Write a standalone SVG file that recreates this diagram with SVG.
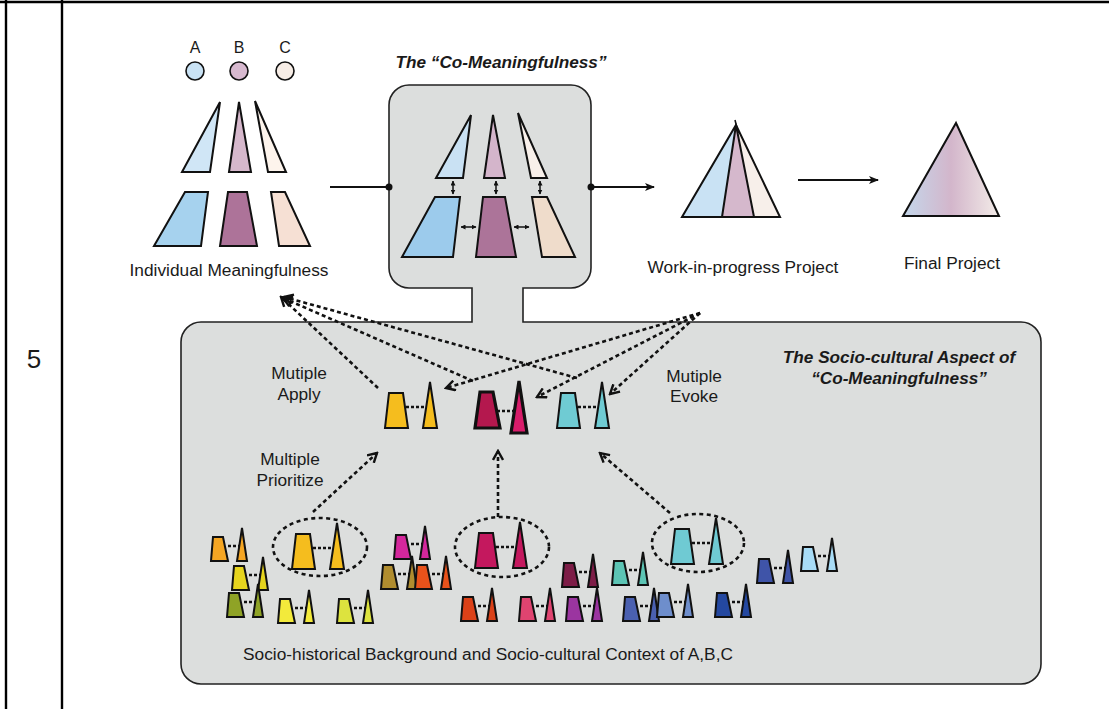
<svg xmlns="http://www.w3.org/2000/svg" width="1109" height="709" viewBox="0 0 1109 709">
<style>
text{font-family:"Liberation Sans",Arial,sans-serif;fill:#1a1a1a}
.lbl{font-size:17.3px}
.ttl{font-size:17.2px;font-weight:bold;font-style:italic}
.abc{font-size:16px}
.sh{stroke:#111;stroke-width:2;stroke-linejoin:miter}
.thick{stroke:#111;stroke-width:3.2;stroke-linejoin:miter}
.dl{fill:none;stroke:#111;stroke-width:2.6;stroke-dasharray:4 3}
.ln{fill:none;stroke:#111;stroke-width:1.8}
.dbl{fill:none;stroke:#111;stroke-width:1.5;marker-start:url(#sm);marker-end:url(#sm)}
.pd{fill:none;stroke:#111;stroke-width:2.5;stroke-dasharray:3 2}
.ell{fill:none;stroke:#111;stroke-width:2.6;stroke-dasharray:4 3.5}
</style>
<defs>
<marker id="ah" viewBox="0 0 10 10" refX="9" refY="5" markerWidth="10" markerHeight="10" markerUnits="userSpaceOnUse" orient="auto">
<path d="M0,1 L10,5 L0,9 L2.5,5 Z" fill="#111"/>
</marker>
<marker id="sm" viewBox="0 0 10 10" refX="9" refY="5" markerWidth="5" markerHeight="5" markerUnits="userSpaceOnUse" orient="auto-start-reverse">
<path d="M0,0 L10,5 L0,10 Z" fill="#111"/>
</marker>
<marker id="op" viewBox="0 0 12 12" refX="10" refY="6" markerWidth="12" markerHeight="12" markerUnits="userSpaceOnUse" orient="auto">
<path d="M1,1 L10,6 L1,11" fill="none" stroke="#111" stroke-width="2.4" stroke-dasharray="none"/>
</marker>
<linearGradient id="fg" x1="0" y1="0" x2="1" y2="0">
<stop offset="0" stop-color="#c4d7eb"/>
<stop offset="0.5" stop-color="#d3b6cb"/>
<stop offset="1" stop-color="#f3ece8"/>
</linearGradient>
<g id="sp">
<path class="sh" d="M2,-24 L12,-24 L17,0 L0,0 Z"/>
<path class="pd" d="M17,-15 L29,-15"/>
<path class="sh" d="M31,-33 L36,0 L26,0 Z"/>
</g>
<g id="lp">
<path class="sh" d="M4,-35 L18,-35 L23,0 L0,0 Z"/>
<path class="pd" d="M21,-21 L41,-21"/>
<path class="sh" d="M45,-46 L52,0 L38,0 Z"/>
</g>
</defs>
<rect width="1109" height="709" fill="#fff"/>
<g id="table">
<path d="M0,2 H1109 M6,0 V709 M62,0 V709" stroke="#000" stroke-width="2.4" fill="none"/>
<text x="34" y="368" text-anchor="middle" style="font-size:26px">5</text>
</g>
<g id="frame">
<path d="M409,85 H571 A20,20 0 0 1 591,105 V268 A20,20 0 0 1 571,288 H523 V322 H1021 A20,20 0 0 1 1041,342 V664 A20,20 0 0 1 1021,684 H201 A20,20 0 0 1 181,664 V342 A20,20 0 0 1 201,322 H472 V288 H409 A20,20 0 0 1 389,268 V105 A20,20 0 0 1 409,85 Z" fill="#dcdedd" stroke="#222" stroke-width="1.6"/>
</g>
<g id="individual">
<text class="abc" x="195" y="53" text-anchor="middle">A</text>
<text class="abc" x="239" y="53" text-anchor="middle">B</text>
<text class="abc" x="285" y="53" text-anchor="middle">C</text>
<circle cx="195" cy="71" r="9" fill="#c9e2f4" stroke="#111" stroke-width="1.6"/>
<circle cx="239" cy="71" r="9" fill="#d7b9cf" stroke="#111" stroke-width="1.6"/>
<circle cx="285" cy="71" r="9" fill="#f7ede6" stroke="#111" stroke-width="1.6"/>
<path class="sh" d="M220,102 L210,172 L182,172 Z" fill="#d0e6f6"/>
<path class="sh" d="M239,102 L251,172 L229,172 Z" fill="#d6b8cc"/>
<path class="sh" d="M255,101 L286,172 L268,172 Z" fill="#fdf4ec"/>
<path class="sh" d="M185,192 L208,192 L201,246 L154,246 Z" fill="#a6d2ee"/>
<path class="sh" d="M228,192 L247,192 L257,246 L220,246 Z" fill="#ad7399"/>
<path class="sh" d="M271,192 L285,192 L310,246 L279,246 Z" fill="#f6e0d4"/>
<text class="lbl" x="229" y="276" text-anchor="middle">Individual Meaningfulness</text>
</g>
<g id="co-meaningfulness">
<text class="ttl" x="501" y="68" text-anchor="middle">The “Co-Meaningfulness”</text>
<path class="sh" d="M471,115 L463,178 L436,178 Z" fill="#c9e1f3"/>
<path class="sh" d="M493,115 L505,178 L484,178 Z" fill="#d4b5cb"/>
<path class="sh" d="M518,113 L547,178 L531,178 Z" fill="#f8f0ea"/>
<path class="sh" d="M435,197 L460,197 L453,257 L402,257 Z" fill="#9ccbec"/>
<path class="sh" d="M483,197 L505,197 L516,257 L476,257 Z" fill="#ac7499"/>
<path class="sh" d="M532,197 L547,197 L575,257 L542,257 Z" fill="#efdccb"/>
<path class="dbl" d="M453,181 V194"/>
<path class="dbl" d="M496,181 V194"/>
<path class="dbl" d="M540,181 V194"/>
<path class="dbl" d="M461,227 H476"/>
<path class="dbl" d="M514,227 H529"/>
</g>
<g id="work-in-progress">
<path d="M736,125 L722,217 L682,217 Z" fill="#c9e2f4"/>
<path d="M736,125 L754,217 L722,217 Z" fill="#d5b8cc"/>
<path d="M736,125 L780,217 L754,217 Z" fill="#f7efea"/>
<path class="sh" d="M736,125 L780,217 L682,217 Z M736,125 L722,217 M736,125 L754,217" fill="none"/>
<path d="M735,120 L737,128" stroke="#111" stroke-width="1.5"/>
<text class="lbl" x="743" y="273" text-anchor="middle">Work-in-progress Project</text>
</g>
<g id="final-project">
<path class="sh" d="M956,123 L999,216 L903,216 Z" fill="url(#fg)"/>
<text class="lbl" x="952" y="269" text-anchor="middle">Final Project</text>
</g>
<g id="socio-cultural">
<text class="ttl" x="899" y="363" text-anchor="middle">The Socio-cultural Aspect of</text>
<text class="ttl" x="899" y="384" text-anchor="middle">“Co-Meaningfulness”</text>
<text class="lbl" x="299" y="379" text-anchor="middle">Mutiple</text>
<text class="lbl" x="299" y="400" text-anchor="middle">Apply</text>
<text class="lbl" x="694" y="382" text-anchor="middle">Mutiple</text>
<text class="lbl" x="694" y="402" text-anchor="middle">Evoke</text>
<text class="lbl" x="290" y="465" text-anchor="middle">Multiple</text>
<text class="lbl" x="290" y="486" text-anchor="middle">Prioritize</text>
<text class="lbl" x="488" y="660" text-anchor="middle">Socio-historical Background and Socio-cultural Context of A,B,C</text>
</g>
<g id="selected">
<use href="#lp" x="385" y="428" fill="#f5bd1e"/>
<g id="selected-b">
<path class="thick" d="M480,392 L493,392 L500,428 L475,428 Z" fill="#b4184e"/>
<path class="pd" d="M497,411 L515,411"/>
<path class="thick" d="M519,381 L527,433 L511,433 Z" fill="#d81c6a"/>
</g>
<use href="#lp" x="557" y="428" fill="#6fcbd3"/>
</g>
<g id="background">
<use href="#sp" x="211" y="561" fill="#f5a623"/>
<use href="#sp" x="232" y="590" fill="#e6d41e"/>
<use href="#sp" x="227" y="617" fill="#8fa326"/>
<use href="#sp" x="278" y="623" fill="#f3ea3b"/>
<use href="#sp" x="337" y="623" fill="#dde33e"/>
<use href="#sp" x="394" y="559" fill="#d4279c"/>
<use href="#sp" x="381" y="589" fill="#b08d2f"/>
<use href="#sp" x="415" y="589" fill="#e8521b"/>
<use href="#sp" x="461" y="621" fill="#db4118"/>
<use href="#sp" x="519" y="621" fill="#e04470"/>
<use href="#sp" x="562" y="587" fill="#7d1d47"/>
<use href="#sp" x="566" y="621" fill="#9b35a0"/>
<use href="#sp" x="612" y="585" fill="#5cc4b4"/>
<use href="#sp" x="623" y="621" fill="#4a60b0"/>
<use href="#sp" x="657" y="617" fill="#6e8ecc"/>
<use href="#sp" x="715" y="617" fill="#2448a0"/>
<use href="#sp" x="757" y="583" fill="#3f54a8"/>
<use href="#sp" x="801" y="571" fill="#a8dcf6"/>
<ellipse class="ell" cx="320" cy="547" rx="47" ry="29"/>
<use href="#lp" x="292" y="569" fill="#f5bd1e"/>
<ellipse class="ell" cx="502" cy="547" rx="47" ry="30"/>
<use href="#lp" x="475" y="568" fill="#c4185e"/>
<ellipse class="ell" cx="698" cy="543" rx="46" ry="29"/>
<use href="#lp" x="671" y="564" fill="#6fcad3"/>
</g>
<g id="connectors">
<path class="ln" d="M330,187 H389"/>
<circle cx="389" cy="187" r="3.5" fill="#111"/>
<circle cx="591" cy="187" r="3.5" fill="#111"/>
<path class="ln" d="M591,187 H654" marker-end="url(#ah)"/>
<path class="ln" d="M798,180 H878" marker-end="url(#ah)"/>
<path class="dl" d="M378,388 L281,297" marker-end="url(#op)"/>
<path class="dl" d="M473,381 L283,298" marker-end="url(#op)"/>
<path class="dl" d="M577,378 L284,297" marker-end="url(#op)"/>
<path class="dl" d="M700,313 L446,388" marker-end="url(#op)"/>
<path class="dl" d="M700,313 L537,397" marker-end="url(#op)"/>
<path class="dl" d="M700,313 L610,394" marker-end="url(#op)"/>
<path class="dl" d="M313,512 L377,453" marker-end="url(#op)"/>
<path class="dl" d="M498,517 L498,451" marker-end="url(#op)"/>
<path class="dl" d="M670,513 L600,453" marker-end="url(#op)"/>
</g>
</svg>
